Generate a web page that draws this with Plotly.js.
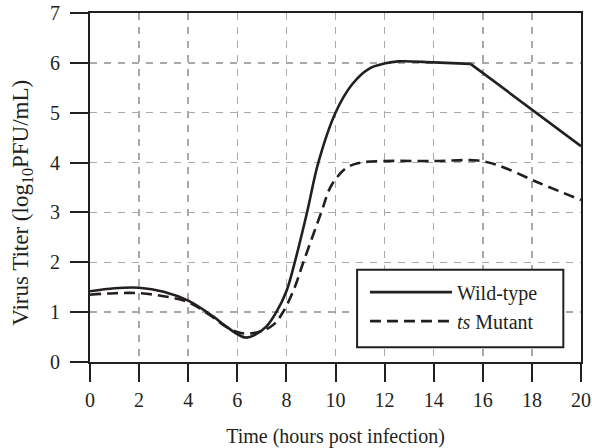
<!DOCTYPE html>
<html>
<head>
<meta charset="utf-8">
<script src="https://cdn.plot.ly/plotly-3.0.1.min.js"></script>
<style>html,body{margin:0;padding:0;background:#fff;}#chart{width:592px;height:448px;}</style>
</head>
<body>
<div id="chart"></div>
<script>
// Wild-type (smooth part up to the 15.5 h corner, then straight decline)
const wtHours = [0, 1, 2, 3, 4, 5, 5.5, 6, 6.35, 6.7, 7.2, 7.59, 8, 8.34, 8.84, 9.3, 10, 10.68, 11.36, 12.03, 12.57, 14, 15.5];
const wtTiter = [1.42, 1.48, 1.49, 1.41, 1.23, 0.92, 0.73, 0.56, 0.49, 0.54, 0.72, 1.0, 1.42, 2.0, 3.0, 4.0, 5.0, 5.57, 5.88, 5.99, 6.03, 6.01, 5.98];
const wtDeclineHours = [15.5, 18, 20];
const wtDeclineTiter = [5.98, 5.07, 4.33];
// ts Mutant
const tsHours = [0, 1, 2, 3, 4, 5, 5.5, 6, 6.4, 7, 7.5, 7.86, 8.3, 8.69, 9.42, 9.82, 10.41, 10.95, 12, 14, 15.8, 16.6, 18.3, 20];
const tsTiter = [1.35, 1.38, 1.38, 1.32, 1.2, 0.9, 0.72, 0.6, 0.57, 0.62, 0.76, 1.0, 1.45, 2.0, 3.0, 3.53, 3.88, 3.99, 4.03, 4.03, 4.04, 3.95, 3.59, 3.25];

const seriesNames = ['Wild-type', '<i>ts</i> Mutant'];
const xTicks = [0, 2, 4, 6, 8, 10, 12, 14, 16, 18, 20];
const yTicks = [0, 1, 2, 3, 4, 5, 6, 7];
const xTitle = 'Time (hours post infection)';
const yTitle = 'Virus Titer (log<sub>10</sub>PFU/mL)';

const ink = '#231f20';
const font = 'Liberation Serif, Times New Roman, serif';

const traces = [
  {x: wtHours, y: wtTiter, mode: 'lines', name: seriesNames[0], legendgroup: 'wt',
   line: {color: ink, width: 2.6, shape: 'spline', smoothing: 1}},
  {x: wtDeclineHours, y: wtDeclineTiter, mode: 'lines', name: seriesNames[0], legendgroup: 'wt', showlegend: false,
   line: {color: ink, width: 2.6}},
  {x: tsHours, y: tsTiter, mode: 'lines', name: seriesNames[1], legendgroup: 'ts',
   line: {color: ink, width: 2.6, dash: '11px,6px', shape: 'spline', smoothing: 1}}
];

const axisCommon = {
  showline: true, linecolor: ink, linewidth: 2, mirror: true,
  ticks: 'outside', ticklen: 18, tickwidth: 2, tickcolor: ink,
  showgrid: true, gridcolor: '#a9a9a9', gridwidth: 1.5, griddash: '7px,7px',
  zeroline: false, tickfont: {family: font, size: 20, color: ink},
  tickmode: 'array'
};

const layout = {
  width: 592, height: 448,
  margin: {l: 90, r: 11, t: 13, b: 86},
  paper_bgcolor: '#fff', plot_bgcolor: '#fff',
  font: {family: font, color: ink, size: 20},
  xaxis: Object.assign({}, axisCommon, {
    range: [0, 20], tickvals: xTicks, ticktext: xTicks.map(String),
    ticklabelstandoff: 1,
    title: {text: xTitle, font: {family: font, size: 20, color: ink}, standoff: 20}
  }),
  yaxis: Object.assign({}, axisCommon, {
    range: [0, 7], tickvals: yTicks, ticktext: yTicks.map(String),
    ticklabelstandoff: 6
  }),
  annotations: [
    {text: yTitle, xref: 'paper', yref: 'paper', x: -0.1385, y: 0.456,
     xanchor: 'center', yanchor: 'middle', textangle: -90, showarrow: false,
     font: {family: font, size: 23, color: ink}}
  ],
  showlegend: true,
  legend: {
    x: 0.56, y: 0.256, xanchor: 'left', yanchor: 'top',
    bgcolor: 'rgba(0,0,0,0)', borderwidth: 0,
    font: {family: font, size: 20, color: ink},
    itemwidth: 82, traceorder: 'normal'
  },
  shapes: [
    {type: 'rect', xref: 'paper', yref: 'paper', x0: 0.544, x1: 0.964, y0: 0.042, y1: 0.264,
     line: {color: ink, width: 2}, fillcolor: '#fff', layer: 'above'}
  ]
};

Plotly.newPlot('chart', traces, layout, {displayModeBar: false, staticPlot: true});
</script>
</body>
</html>
